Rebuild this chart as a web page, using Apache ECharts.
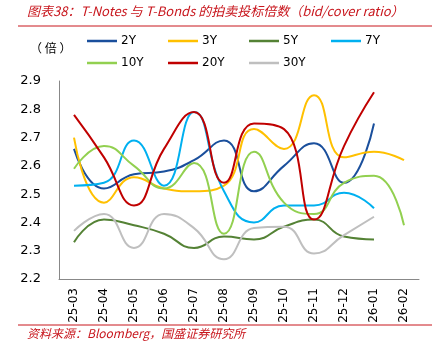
<!DOCTYPE html>
<html><head><meta charset="utf-8">
<script src="https://cdn.jsdelivr.net/npm/echarts@6/dist/echarts.min.js"></script>
<style>html,body{margin:0;padding:0;background:#fff}#c{width:438px;height:357px}</style>
</head><body><div id="c"></div>
<script>
const categories = ['25-03','25-04','25-05','25-06','25-07','25-08','25-09','25-10','25-11','25-12','26-01','26-02'];
const y2  = [2.66,2.52,2.57,2.58,2.62,2.69,2.51,2.60,2.68,2.54,2.75,null];
const y3  = [2.70,2.47,2.56,2.52,2.51,2.53,2.73,2.66,2.85,2.63,2.65,2.62];
const y5  = [2.33,2.41,2.39,2.36,2.31,2.35,2.34,2.385,2.41,2.35,2.34,null];
const y7  = [2.53,2.54,2.69,2.53,2.79,2.51,2.40,2.46,2.46,2.505,2.45,null];
const y10 = [2.59,2.67,2.60,2.52,2.61,2.36,2.65,2.47,2.43,2.54,2.565,2.39];
const y20 = [2.78,2.63,2.46,2.66,2.79,2.54,2.75,2.73,2.41,2.67,2.86,null];
const y30 = [2.37,2.43,2.31,2.43,2.38,2.27,2.38,2.385,2.29,2.355,2.42,null];
const seriesNames = ['2Y','3Y','5Y','7Y','10Y','20Y','30Y'];
const yTicks = [2.2,2.3,2.4,2.5,2.6,2.7,2.8,2.9];

const colors = ['#1a4f9c','#ffc000','#548235','#00b0f0','#92d050','#c00000','#bfbfbf'];
const data = [y2,y3,y5,y7,y10,y20,y30];
const font = 'DejaVu Sans';
const red = '#c8161d';

const legendPos = [[82,30],[163,30],[244,30],[326,30],[82,52],[163,52],[244,52]];
const legends = seriesNames.map((n,i)=>({
  data:[n], left:legendPos[i][0], top:legendPos[i][1], icon:'rect',
  itemWidth:30, itemHeight:2.5, itemGap:0,
  textStyle:{fontFamily:font,fontSize:12,color:'#000',padding:[0,0,0,-1]},
  selectedMode:false
}));

const chart = echarts.init(document.getElementById('c'));
chart.setOption({
  animation:false,
  color:colors,
  legend:legends,
  grid:{left:59,right:19,top:81,bottom:78,containLabel:false},
  xAxis:{type:'category',data:categories,boundaryGap:true,
    axisLine:{lineStyle:{color:'#888',width:1}},
    axisTick:{inside:true,length:4,lineStyle:{color:'#888'}},
    axisLabel:{rotate:90,fontFamily:font,fontSize:12,color:'#000',margin:9}},
  yAxis:{type:'value',min:2.2,max:2.9,interval:0.1,
    axisLine:{show:true,lineStyle:{color:'#888',width:1}},
    axisTick:{show:false},
    splitLine:{show:false},
    axisLabel:{fontFamily:font,fontSize:13,color:'#000',margin:18,
      formatter:v=>{const t=yTicks.find(x=>Math.abs(x-v)<1e-6);return t===undefined?'':t.toFixed(1);}}},
  series:seriesNames.map((n,i)=>({name:n,type:'line',data:data[i],smooth:0.5,symbol:'none',
    lineStyle:{width:2,color:colors[i]},itemStyle:{color:colors[i]}})),
  graphic:[
    {type:'text',left:27,top:5,style:{text:'图表38：T-Notes 与 T-Bonds 的拍卖投标倍数（bid/cover ratio）',
      font:'italic 13px "Noto Sans CJK SC"',fill:red}},
    {type:'line',shape:{x1:18,y1:26,x2:432,y2:26},style:{stroke:red,lineWidth:1}},
    {type:'text',left:30,top:42,style:{text:'（ 倍 ）',font:'12px "Noto Sans CJK SC"',fill:'#000'}},
    {type:'line',shape:{x1:18,y1:325,x2:432,y2:325},style:{stroke:red,lineWidth:1}},
    {type:'text',left:27,top:327,style:{text:'资料来源：Bloomberg，国盛证券研究所',
      font:'italic 12px "Noto Sans CJK SC"',fill:red}}
  ]
});
</script></body></html>
